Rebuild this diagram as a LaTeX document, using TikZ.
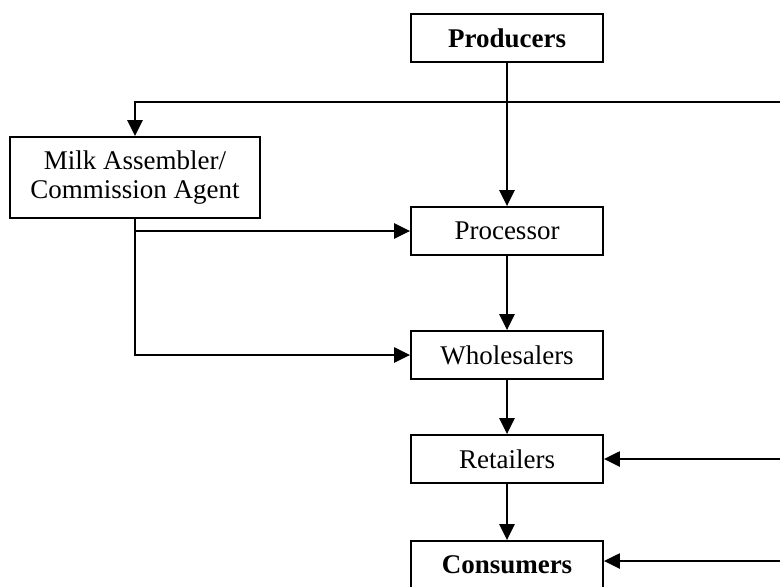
\documentclass[tikz,border=0pt]{standalone}
\usepackage{fontspec}
\setmainfont{Liberation Serif}
\usetikzlibrary{arrows.meta}
\tikzset{
	stage/.style={draw, line width=0.9pt, minimum width=96pt, minimum height=24pt, inner sep=0pt, align=center, font=\fontsize{13.5}{14.5}\selectfont},
	flow/.style={line width=1.2pt, -{Triangle[length=8pt,width=7.5pt]}}
}

\begin{document}
\begin{tikzpicture}[x=0.5pt, y=-0.5pt]
		%%%%% START %%%%%
		
		\useasboundingbox (0, 0) rectangle (780, 586);
		
		\node[stage] (prod) at (507, 38) {\textbf{Producers}};
		\node[stage, minimum width=125pt, minimum height=40.5pt] (milk) at (135, 177.5) {Milk Assembler/\\Commission Agent};
		\node[stage] (proc) at (507, 231) {Processor};
		\node[stage] (whole) at (507, 355) {Wholesalers};
		\node[stage] (ret) at (507, 459) {Retailers};
		\node[stage] (cons) at (507, 565) {\textbf{Consumers}};
		
		\coordinate (rtop) at (780, 102);
		\coordinate (rret) at (780, 459);
		\coordinate (rcons) at (780, 561);
		
		\draw[flow] (prod) -- (proc);
		\draw[flow] (rtop) -| (milk.north);
		
		\draw[flow] (milk.south) |- (whole.west);
		\draw[flow] (milk.south |- proc.west) -- (proc.west);
		
		\draw[flow] (proc) -- (whole);
		\draw[flow] (whole) -- (ret);
		\draw[flow] (ret) -- (cons);
		
		\draw[flow] (rret) -- (ret.east);
		\draw[flow] (rcons) -- (rcons -| cons.east);
		
		%%%%% END %%%%%
	\end{tikzpicture}
\end{document}
